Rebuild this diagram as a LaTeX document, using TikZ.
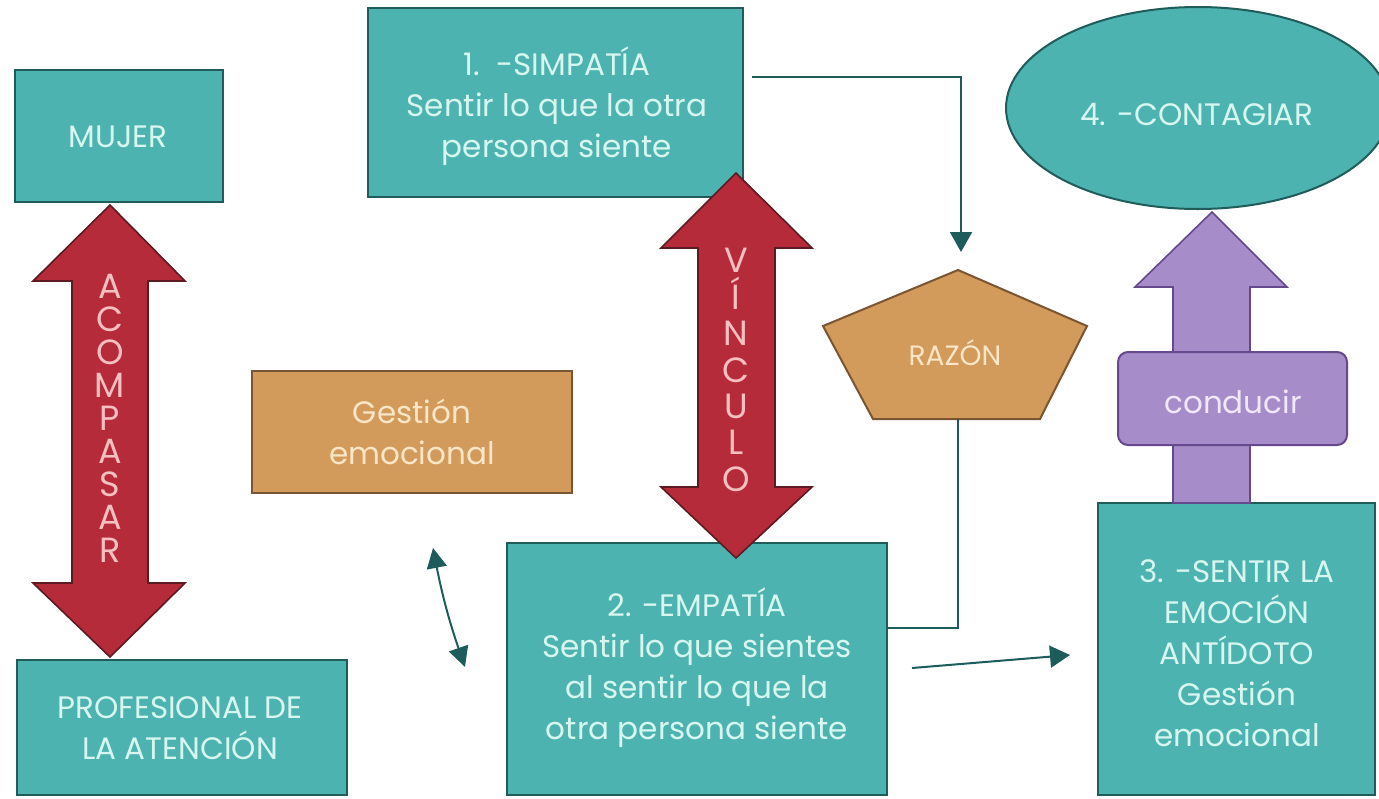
\documentclass[tikz,border=0pt]{standalone}
\usepackage{fontspec}
\setmainfont{Poppins}
\usetikzlibrary{shapes.geometric,arrows.meta,fit}
\definecolor{tealf}{HTML}{4DB3B0}
\definecolor{tealdk}{HTML}{1F5C5A}
\definecolor{tealtx}{HTML}{D8F6F0}
\definecolor{redf}{HTML}{B62B3A}
\definecolor{reddk}{HTML}{5C1A22}
\definecolor{redtx}{HTML}{F6C0C0}
\definecolor{orf}{HTML}{D29A5B}
\definecolor{ordk}{HTML}{7A5532}
\definecolor{ortx}{HTML}{FAE6C6}
\definecolor{purf}{HTML}{A68CC8}
\definecolor{purdk}{HTML}{65498C}
\definecolor{purtx}{HTML}{F0E8F8}
\definecolor{lnk}{HTML}{1E5B5B}
\begin{document}
\begin{tikzpicture}[x=0.5pt,y=-0.5pt,
  txt/.style={font=\fontsize{15.5pt}{20.5pt}\selectfont, align=center, inner sep=0pt},
  ttx/.style={txt, text=tealtx},
  otx/.style={txt, text=ortx},
  ptx/.style={txt, text=purtx},
  tealbox/.style={draw=tealdk, fill=tealf, line width=1pt, inner sep=0pt, outer sep=0pt},
  orbox/.style={draw=ordk, fill=orf, line width=1pt, inner sep=0pt, outer sep=0pt},
  redarrow/.style={draw=reddk, fill=redf, line width=0.8pt, line join=miter},
  purarrow/.style={draw=purdk, fill=purf, line width=0.8pt, line join=miter},
  vlet/.style={font=\fontsize{17.5pt}{#1}\selectfont, align=center, text=redtx, inner sep=0pt},
  conn/.style={draw=lnk, line width=1pt}
]
\useasboundingbox (0,0) rectangle (1379,798);
\clip (0,0) rectangle (1379,798);

% boxes
\node[tealbox, fit={(15,70) (223,202)}] (mujer) {};
\node[ttx] at (118,137) {MUJER};
\node[tealbox, fit={(17,660) (347,795)}] (prof) {};
\node[ttx] at (180,728) {PROFESIONAL DE\\LA ATENCIÓN};
\node[tealbox, fit={(368,8) (743,197)}] (sim) {};
\node[ttx] at (557,106) {1.\ \ -SIMPATÍA\\Sentir lo que la otra\\persona siente};
\node[orbox, fit={(252,371) (572,493)}] (gest) {};
\node[otx] at (412,432) {Gestión\\emocional};
\node[tealbox, fit={(507,543) (887,795)}] (emp) {};
\node[ttx] at (697,668) {2. -EMPATÍA\\Sentir lo que sientes\\al sentir lo que la\\otra persona siente};
\node[tealbox, fit={(1098,503) (1375,795)}] (ant) {};
\node[ttx] at (1237,653) {3. -SENTIR LA\\EMOCIÓN\\ANTÍDOTO\\Gestión\\emocional};
\node[tealbox, ellipse, minimum width=192pt, minimum height=101pt] (cont) at (1198,108) {};
\node[ttx] at (1197,115) {4. -CONTAGIAR};

% pentagon RAZON
\path[draw=ordk, fill=orf, line width=1pt, line join=miter]
  (958,270) -- (1087,326) -- (1040,419) -- (873,419) -- (823,326) -- cycle;
\node[otx, font=\fontsize{14pt}{20pt}\selectfont] (raz) at (955,353) {RAZÓN};
\coordinate (razb) at (958,419);

% purple arrow + conducir
\path[purarrow] (1212,212) -- (1287,287) -- (1250,287) -- (1250,503) -- (1173,503) -- (1173,287) -- (1135,287) -- cycle;
\node[draw=purdk, fill=purf, line width=1pt, rounded corners=5pt, fit={(1118,352) (1347,445)}, inner sep=0pt] (cond) {};
\node[ptx] at (1233,402) {conducir};

% red double arrows
\path[redarrow] (110,205) -- (185,281) -- (148,281) -- (148,583) -- (185,583) -- (110,657)
  -- (33,583) -- (72,583) -- (72,281) -- (33,281) -- cycle;
\node[vlet=16.5pt] (acomp) at (110,418) {A\\C\\O\\M\\P\\A\\S\\A\\R};
\path[redarrow] (736,173) -- (812,248) -- (775,248) -- (775,487) -- (812,487) -- (736,558)
  -- (661,487) -- (698,487) -- (698,248) -- (661,248) -- cycle;
\node[vlet=18.2pt] (vinc) at (736,370) {V\\Í\\N\\C\\U\\L\\O};

% connectors
\coordinate (s1) at (752,77);
\coordinate (s2) at (961,77);
\coordinate (s3) at (961,252);
\draw[conn, -{Triangle[length=10pt,width=11pt]}] (s1) -- (s2) -- (s3);

\coordinate (rj) at (958,628);
\draw[conn] (razb) -- (rj) -- (rj -| emp.east);

\coordinate (e1) at (912,668);
\coordinate (e2) at (1070,655);
\draw[conn, -{Triangle[length=10pt,width=11pt]}] (e1) -- (e2);

\coordinate (g1) at (433,548);
\coordinate (g2) at (465,667);
\draw[conn, {Triangle[length=10pt,width=10pt]}-{Triangle[length=10pt,width=10pt]}] (g1) to[bend right=4] (g2);
\end{tikzpicture}
\end{document}
